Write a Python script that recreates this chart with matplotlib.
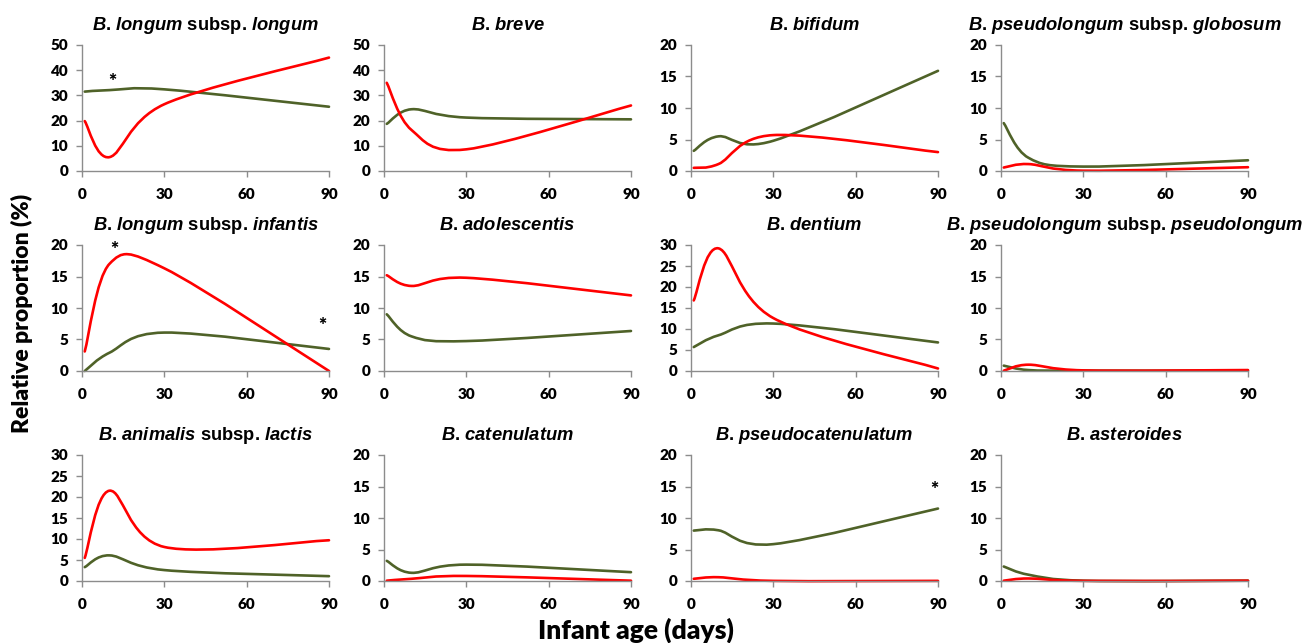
import numpy as np
import matplotlib
matplotlib.use('Agg')
import matplotlib.pyplot as plt
from matplotlib.path import Path
from matplotlib.patches import PathPatch

plt.rcParams['mathtext.fontset'] = 'custom'
plt.rcParams['mathtext.it'] = 'Liberation Sans:italic:bold'
plt.rcParams['mathtext.rm'] = 'Liberation Sans:bold'
plt.rcParams['mathtext.bf'] = 'Liberation Sans:bold'

# sampling days
days = [1, 10, 30, 90]

# mathtext puts a small space after "." already, SP tops it up a bit
SP = r'\!\;'
titles = [
    r'$\mathit{B.' + SP + r'longum}$ subsp. $\mathit{longum}$',
    r'$\mathit{B.' + SP + r'breve}$',
    r'$\mathit{B.' + SP + r'bifidum}$',
    r'$\mathit{B.' + SP + r'pseudolongum}$ subsp. $\mathit{globosum}$',
    r'$\mathit{B.' + SP + r'longum}$ subsp. $\mathit{infantis}$',
    r'$\mathit{B.' + SP + r'adolescentis}$',
    r'$\mathit{B.' + SP + r'dentium}$',
    r'$\mathit{B.' + SP + r'pseudolongum}$ subsp. $\mathit{pseudolongum}$',
    r'$\mathit{B.' + SP + r'animalis}$ subsp. $\mathit{lactis}$',
    r'$\mathit{B.' + SP + r'catenulatum}$',
    r'$\mathit{B.' + SP + r'pseudocatenulatum}$',
    r'$\mathit{B.' + SP + r'asteroides}$',
]

# red series
red = [
    [19.8, 5.5, 26.5, 45.0],
    [35.0, 16.3, 8.6, 26.0],
    [0.5, 1.1, 5.7, 3.0],
    [0.55, 1.1, 0.05, 0.6],
    [3.1, 17.0, 16.3, 0.0],
    [15.2, 13.5, 14.8, 12.0],
    [16.8, 29.2, 12.6, 0.6],
    [0.05, 1.0, 0.1, 0.15],
    [5.5, 21.5, 8.1, 9.7],
    [0.05, 0.35, 0.8, 0.05],
    [0.35, 0.6, 0.02, 0.02],
    [0.05, 0.4, 0.02, 0.05],
]

# green series
green = [
    [31.5, 32.1, 32.4, 25.5],
    [18.7, 24.5, 21.2, 20.5],
    [3.2, 5.5, 4.8, 15.9],
    [7.6, 2.1, 0.7, 1.7],
    [0.0, 2.9, 6.1, 3.5],
    [9.0, 5.5, 4.75, 6.35],
    [5.7, 8.5, 11.3, 6.8],
    [0.85, 0.15, 0.05, 0.05],
    [3.3, 6.1, 2.6, 1.15],
    [3.2, 1.3, 2.6, 1.4],
    [8.0, 8.05, 5.85, 11.5],
    [2.3, 1.0, 0.05, 0.05],
]

ymax = [50, 50, 20, 20, 20, 20, 30, 20, 30, 20, 20, 20]
ystep = [10, 10, 5, 5, 5, 5, 5, 5, 5, 5, 5, 5]

# asterisks: (panel, day, value)
stars = [(0, 11, 35.5), (4, 11.7, 19.3), (4, 87.5, 7.2), (10, 88.5, 14.5)]

red_color = '#FF0000'
green_color = '#4F6228'


def smooth_path(x, y):
    # excel style smoothed line (cubic bezier through the points)
    pts = list(zip(x, y))
    n = len(pts)
    verts = [pts[0]]
    codes = [Path.MOVETO]
    for i in range(n - 1):
        p0 = pts[i - 1] if i > 0 else pts[i]
        p1 = pts[i]
        p2 = pts[i + 1]
        p3 = pts[i + 2] if i + 2 < n else pts[i + 1]
        c1 = (p1[0] + (p2[0] - p0[0]) / 6., p1[1] + (p2[1] - p0[1]) / 6.)
        c2 = (p2[0] - (p3[0] - p1[0]) / 6., p2[1] - (p3[1] - p1[1]) / 6.)
        verts += [c1, c2, p2]
        codes += [Path.CURVE4] * 3
    return Path(verts, codes)


W, H = 1304, 643
fig = plt.figure(figsize=(W / 100., H / 100.), dpi=100)

lefts = [82, 384, 691, 1001]
tops = [45, 245, 455]
aw, ah = 247, 126

tick_font = 'Lato'
for k in range(12):
    r, c = k // 4, k % 4
    rect = [lefts[c] / W, 1 - (tops[r] + ah) / H, aw / W, ah / H]
    ax = fig.add_axes(rect)
    for vals, col in [(green[k], green_color), (red[k], red_color)]:
        patch = PathPatch(smooth_path(days, vals), facecolor='none',
                          edgecolor=col, linewidth=1.9, clip_on=False,
                          capstyle='round', joinstyle='round')
        ax.add_patch(patch)
    ax.set_xlim(0, 90)
    ax.set_ylim(0, ymax[k])
    ax.set_xticks([0, 30, 60, 90])
    ax.set_yticks(np.arange(0, ymax[k] + 1, ystep[k]))
    for s in ['top', 'right']:
        ax.spines[s].set_visible(False)
    for s in ['left', 'bottom']:
        ax.spines[s].set_color('#8c8c8c')
        ax.spines[s].set_linewidth(1.0)
    ax.tick_params(axis='both', direction='out', length=4, width=1,
                   color='#8c8c8c', labelsize=11)
    ax.tick_params(axis='x', pad=8)
    ax.tick_params(axis='y', pad=6)
    for lab in ax.get_xticklabels() + ax.get_yticklabels():
        lab.set_fontfamily(tick_font)
        lab.set_fontweight('heavy')
    ax.set_title(titles[k], fontsize=13.2, fontweight='bold',
                 family='Liberation Sans', pad=11)
    for (p, sx, sy) in stars:
        if p == k:
            ax.text(sx, sy, '*', ha='center', va='center', fontsize=14,
                    fontweight='heavy', family=tick_font)

fig.text(22 / W, 1 - 313 / H, 'Relative proportion (%)', rotation=90,
         ha='center', va='center', fontsize=16.5, fontweight='heavy',
         family=tick_font)
fig.text(636 / W, 1 - 630 / H, 'Infant age (days)', ha='center',
         va='center', fontsize=19, fontweight='heavy', family=tick_font)

plt.savefig('out.png', dpi=100)
plt.close()
